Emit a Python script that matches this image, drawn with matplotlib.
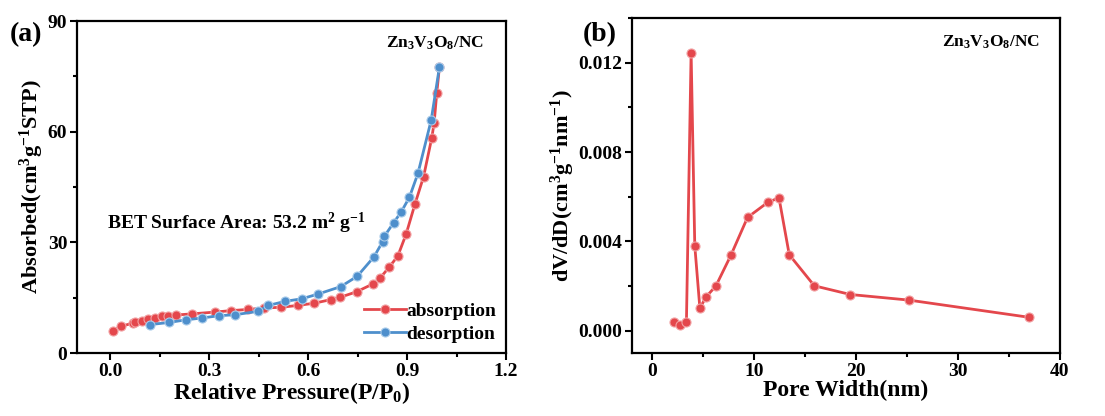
import matplotlib
matplotlib.use('Agg')
import matplotlib.pyplot as plt
from matplotlib.ticker import MultipleLocator

plt.rcParams['font.family'] = 'Liberation Serif'
plt.rcParams['font.weight'] = 'bold'
plt.rcParams['mathtext.default'] = 'regular'

# (a) isotherme N2
p_ads = [0.008, 0.032, 0.069, 0.076, 0.096, 0.116, 0.136, 0.157, 0.177, 0.199,
         0.247, 0.318, 0.367, 0.417, 0.468, 0.518, 0.569, 0.619, 0.670, 0.697,
         0.747, 0.798, 0.818, 0.846, 0.872, 0.897, 0.924, 0.950, 0.975, 0.982,
         0.990, 0.998]
v_ads = [6.0, 7.2, 8.1, 8.4, 8.8, 9.3, 9.6, 9.9, 10.1, 10.3,
         10.6, 11.1, 11.5, 11.8, 12.2, 12.4, 12.9, 13.5, 14.5, 15.1,
         16.6, 18.8, 20.3, 23.3, 26.3, 32.2, 40.4, 47.8, 58.4, 62.4,
         70.5, 77.5]
p_des = [0.121, 0.180, 0.230, 0.279, 0.329, 0.380, 0.449, 0.480, 0.530, 0.581,
         0.631, 0.699, 0.749, 0.800, 0.826, 0.831, 0.859, 0.882, 0.907, 0.933,
         0.973, 0.998]
v_des = [7.7, 8.3, 9.0, 9.5, 10.1, 10.4, 11.3, 12.9, 14.0, 14.7,
         16.0, 18.0, 20.8, 26.1, 30.2, 31.6, 35.3, 38.2, 42.2, 48.7,
         63.1, 77.5]

# (b) distribution des pores
pore_w = [2.13, 2.66, 3.34, 3.80, 4.16, 4.66, 5.28, 6.23, 7.70, 9.34,
          11.31, 12.43, 13.44, 15.9, 19.44, 25.18, 36.98]
dvdd = [0.0004, 0.00025, 0.0004, 0.01245, 0.0038, 0.00101, 0.00152, 0.0020,
        0.00337, 0.00507, 0.00574, 0.00595, 0.0034, 0.00201, 0.00162,
        0.00137, 0.0006]

RED = '#e4474c'
BLUE = '#4e8fcc'

fig = plt.figure(figsize=(11.05, 4.16), dpi=100)
ax1 = fig.add_axes([0.0697, 0.1514, 0.3883, 0.7981])
ax2 = fig.add_axes([0.572, 0.1514, 0.387, 0.8053])

def style(ax):
    for s in ax.spines.values():
        s.set_linewidth(1.6)
    ax.tick_params(which='both', direction='out', width=1.5, labelsize=14,
                   top=False, right=False)
    ax.tick_params(which='major', length=5, pad=2)
    ax.tick_params(which='minor', length=3)

mk = dict(marker='o', markersize=6.5, markeredgewidth=0.8, linewidth=2)

ax1.plot(p_ads, v_ads, color=RED, markerfacecolor=RED, markeredgecolor='#f2a0a2',
         label='absorption', **mk)
ax1.plot(p_des, v_des, color=BLUE, markerfacecolor=BLUE, markeredgecolor='#a8cbea',
         label='desorption', **mk)
ax1.set_xlim(-0.1, 1.2)
ax1.set_ylim(0, 90)
ax1.xaxis.set_major_locator(MultipleLocator(0.3))
ax1.xaxis.set_minor_locator(MultipleLocator(0.15))
ax1.yaxis.set_major_locator(MultipleLocator(30))
ax1.yaxis.set_minor_locator(MultipleLocator(15))
ax1.xaxis.set_major_formatter(plt.FuncFormatter(lambda v, p: f'{v:.1f}'))
style(ax1)
ax1.set_xlabel('Relative Pressure(P/P$_0$)', fontsize=17, fontweight='bold', labelpad=0)
ax1.set_ylabel('Absorbed(cm$^3$g$^{-1}$STP)', fontsize=16, fontweight='bold', labelpad=1)
ax1.text(-0.01, 35.2, 'BET Surface Area: 53.2 m$^2$ g$^{-1}$', fontsize=14,
         fontweight='bold', va='center', ha='left')
ax1.text(0.985, 84, 'Zn$_3$V$_3$O$_8$/NC', fontsize=12.5, fontweight='bold',
         ha='center', va='center')
ax1.legend(loc='lower right', frameon=False, fontsize=14, handlelength=2.2,
           handletextpad=0.0, borderaxespad=0.1, labelspacing=0.3)
fig.text(0.009, 0.9, '(a)', fontsize=20, fontweight='bold')

ax2.plot(pore_w, dvdd, color=RED, markerfacecolor=RED, markeredgecolor='#f2a0a2', **mk)
ax2.set_xlim(-2, 40)
ax2.set_ylim(-0.001, 0.014)
ax2.xaxis.set_major_locator(MultipleLocator(10))
ax2.xaxis.set_minor_locator(MultipleLocator(5))
ax2.yaxis.set_major_locator(MultipleLocator(0.004))
ax2.yaxis.set_minor_locator(MultipleLocator(0.002))
ax2.yaxis.set_major_formatter(plt.FuncFormatter(lambda v, p: f'{v:.3f}'))
style(ax2)
ax2.set_xlabel('Pore Width(nm)', fontsize=17, fontweight='bold', labelpad=0)
ax2.set_ylabel('dV/dD(cm$^3$g$^{-1}$nm$^{-1}$)', fontsize=16, fontweight='bold', labelpad=1)
ax2.text(33.2, 0.0129, 'Zn$_3$V$_3$O$_8$/NC', fontsize=12.5, fontweight='bold',
         ha='center', va='center')
fig.text(0.527, 0.9, '(b)', fontsize=20, fontweight='bold')

fig.savefig('out.png', dpi=100)
